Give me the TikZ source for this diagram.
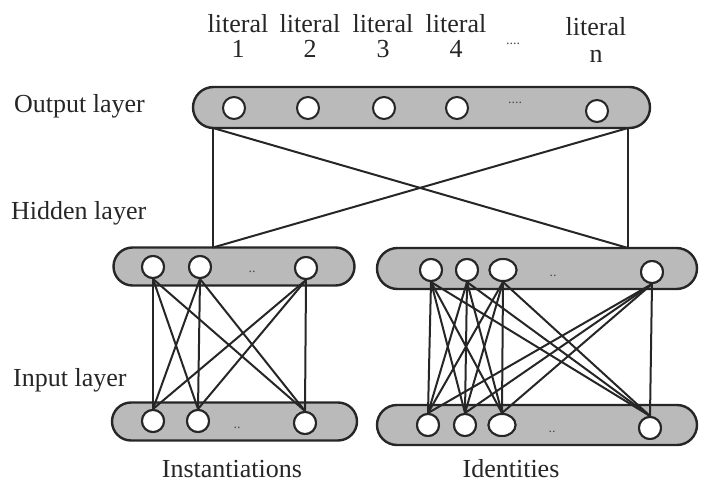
\documentclass[tikz,border=0pt]{standalone}
\usepackage{fontspec}
\setmainfont{Liberation Serif}
\usetikzlibrary{shapes.misc,shapes.geometric}
\begin{document}
\begin{tikzpicture}[x=1pt,y=-1pt,
  bar/.style={draw=black!85, line width=2.4pt, fill=black!27, rounded rectangle, inner sep=0pt},
  unit/.style={draw=black!85, line width=2pt, fill=white, circle, minimum size=22pt, inner sep=0pt},
  wunit/.style={draw=black!85, line width=2pt, fill=white, ellipse, minimum width=27pt, minimum height=22pt, inner sep=0pt},
  link/.style={line width=2pt, draw=black!85},
  lbl/.style={font=\fontsize{26}{26}\selectfont, text=black!85, inner sep=0pt},
  dots/.style={font=\fontsize{14}{14}\selectfont, text=black!70, inner sep=0pt}]
\useasboundingbox (0,0) rectangle (702,484);
% bars
\node[bar, minimum width=457pt, minimum height=41pt] (outbar) at (421.5,107.5) {};
\node[bar, minimum width=241pt, minimum height=38pt] (hlbar) at (234,266.5) {};
\node[bar, minimum width=320pt, minimum height=41pt] (hrbar) at (537,268.5) {};
\node[bar, minimum width=245pt, minimum height=38pt] (ilbar) at (234.5,421.5) {};
\node[bar, minimum width=320pt, minimum height=40pt] (irbar) at (537,425) {};
% output units
\node[unit] (o1) at (234,108) {};
\node[unit] (o2) at (308,108) {};
\node[unit] (o3) at (384,108) {};
\node[unit] (o4) at (457,108) {};
\node[unit] (o5) at (597,111) {};
\node[dots] (od) at (515,103) {....};
% hidden left
\node[unit] (h1) at (153,267) {};
\node[unit] (h2) at (200,267) {};
\node[unit] (h3) at (306,268) {};
\node[dots] (hld) at (252,272) {..};
% hidden right
\node[unit] (r1) at (431,270) {};
\node[unit] (r2) at (467,270) {};
\node[wunit] (r3) at (503,270) {};
\node[unit] (r4) at (652,272) {};
\node[dots] (hrd) at (553,276) {..};
% input left
\node[unit] (i1) at (153,421) {};
\node[unit] (i2) at (198,421) {};
\node[unit] (i3) at (305,423) {};
\node[dots] (ild) at (237,428) {..};
% input right
\node[unit] (j1) at (428,425) {};
\node[unit] (j2) at (465,425) {};
\node[wunit] (j3) at (502,425) {};
\node[unit] (j4) at (650,428) {};
\node[dots] (ird) at (552,432) {..};
% output-hidden links
\coordinate (oa) at (213,128);
\coordinate (ob) at (628,128);
\coordinate (ha) at (213,247.5);
\coordinate (hb) at (628,248);
\draw[link] (oa) -- (ha);
\draw[link] (ob) -- (hb);
\draw[link] (oa) -- (hb);
\draw[link] (ob) -- (ha);
% hidden-input links, left
\foreach \h in {h1,h2,h3}{
  \foreach \i in {i1,i2,i3}{
    \draw[link] (\h.south) -- (\i.north);
  }
}
% hidden-input links, right
\foreach \h in {r1,r2,r3,r4}{
  \foreach \i in {j1,j2,j3,j4}{
    \draw[link] (\h.south) -- (\i.north);
  }
}
% redraw units on top
\foreach \n/\x/\y in {h1/153/267,h2/200/267,h3/306/268,r1/431/270,r2/467/270,r4/652/272,i1/153/421,i2/198/421,i3/305/423,j1/428/425,j2/465/425,j4/650/428}{
  \node[unit] at (\x,\y) {};
}
\node[wunit] at (503,270) {};
\node[wunit] at (502,425) {};
% top labels
\node[lbl, align=center] (l1) at (238,36) {literal\\[-1pt]1};
\node[lbl, align=center] (l2) at (310,36) {literal\\[-1pt]2};
\node[lbl, align=center] (l3) at (383,36) {literal\\[-1pt]3};
\node[lbl, align=center] (l4) at (456,36) {literal\\[-1pt]4};
\node[dots] (ld) at (513,44) {....};
\node[lbl, align=center] (ln) at (596,40) {literal\\[1pt]n};
% side labels
\node[lbl, anchor=west] (tout) at (14,106) {Output layer};
\node[lbl, anchor=west] (thid) at (11,213) {Hidden layer};
\node[lbl, anchor=west] (tin) at (13,380) {Input layer};
% bottom labels
\node[lbl] (tinst) at (232,469) {Instantiations};
\node[lbl] (tid) at (511,469) {Identities};
\end{tikzpicture}
\end{document}
